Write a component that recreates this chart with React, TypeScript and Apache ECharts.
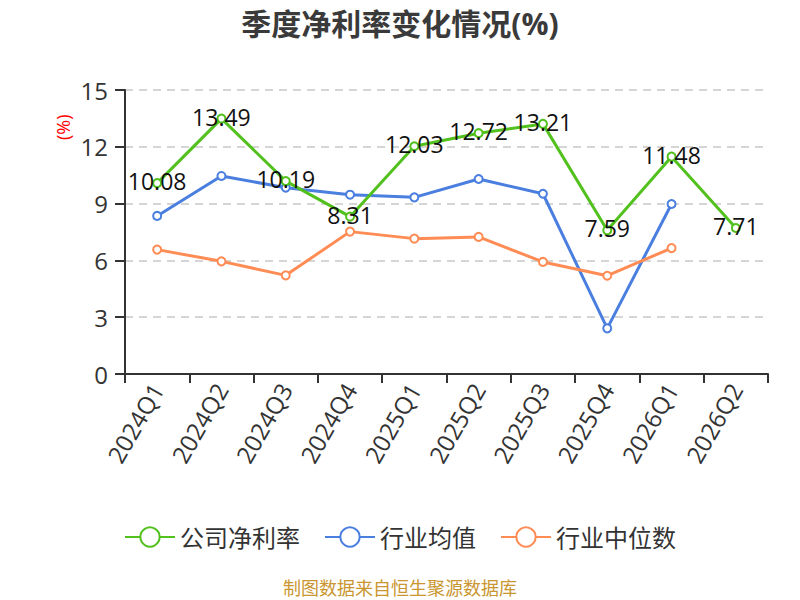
import React, { useEffect, useRef } from "react";
import * as echarts from "echarts";

const categories = ["2024Q1", "2024Q2", "2024Q3", "2024Q4", "2025Q1", "2025Q2", "2025Q3", "2025Q4", "2026Q1", "2026Q2"];
const companyNetMargin = [10.08, 13.49, 10.19, 8.31, 12.03, 12.72, 13.21, 7.59, 11.48, 7.71];
const industryMean = [8.35, 10.46, 9.84, 9.47, 9.33, 10.3, 9.52, 2.41, 8.98, null];
const industryMedian = [6.57, 5.95, 5.21, 7.52, 7.15, 7.24, 5.92, 5.19, 6.65, null];
const seriesNames = ["公司净利率", "行业均值", "行业中位数"];
const titleText = "季度净利率变化情况(%)";
const footerText = "制图数据来自恒生聚源数据库";
const yTicks = { min: 0, max: 15, interval: 3 };

const FONT = "'Open Sans', 'Noto Sans CJK SC', sans-serif";

export default function App() {
  const ref = useRef<HTMLDivElement>(null);
  useEffect(() => {
    if (!ref.current) return;
    const chart = echarts.init(ref.current, null, { renderer: "svg" });
    const colors = ["#52C11E", "#4A7FE0", "#FF8C55"];
    chart.setOption({
      animation: false,
      color: colors,
      textStyle: { fontFamily: FONT },
      title: {
        text: titleText,
        left: "center",
        top: 3,
        textStyle: { fontSize: 30, fontWeight: "bold", color: "#3a3a3a", fontFamily: FONT },
      },
      legend: {
        top: 520,
        left: "center",
        itemWidth: 50,
        itemHeight: 24,
        itemGap: 24,
        textStyle: { fontSize: 24, color: "#333", fontFamily: FONT },
        data: seriesNames,
      },
      grid: { left: 125, right: 32, top: 90, bottom: 226, containLabel: false },
      xAxis: {
        type: "category",
        data: categories,
        boundaryGap: true,
        axisLine: { lineStyle: { color: "#333", width: 2 } },
        axisTick: { show: true, length: 9, lineStyle: { color: "#333", width: 2 } },
        axisLabel: { rotate: 60, fontSize: 24, color: "#333", interval: 0, margin: 11, fontFamily: FONT },
      },
      yAxis: {
        type: "value",
        min: yTicks.min,
        max: yTicks.max,
        interval: yTicks.interval,
        axisLine: { show: true, lineStyle: { color: "#333", width: 2 } },
        axisTick: { show: true, length: 10, lineStyle: { color: "#333", width: 2 } },
        axisLabel: { fontSize: 24, color: "#333", margin: 17, fontFamily: FONT },
        splitLine: { lineStyle: { color: "#c8c8c8", type: [8, 6], width: 1.5 } },
      },
      graphic: [
        {
          type: "text",
          x: 54,
          y: 140,
          rotation: Math.PI / 2,
          style: { text: "(%)", fill: "#ff0000", fontSize: 18, fontFamily: FONT },
        },
        {
          type: "text",
          left: "center",
          top: 579,
          style: { text: footerText, fill: "#C9962F", fontSize: 18, fontFamily: FONT },
        },
      ],
      series: [
        {
          name: seriesNames[0],
          type: "line",
          data: companyNetMargin,
          symbol: "emptyCircle",
          symbolSize: 8,
          lineStyle: { width: 3 },
          itemStyle: { borderWidth: 2 },
          z: 3,
          label: {
            show: true,
            position: "inside",
            offset: [0, -2],
            fontSize: 23,
            color: "#111",
            fontFamily: FONT,
          },
        },
        {
          name: seriesNames[1],
          type: "line",
          data: industryMean,
          symbol: "emptyCircle",
          symbolSize: 8,
          lineStyle: { width: 3 },
          itemStyle: { borderWidth: 2 },
          z: 2,
        },
        {
          name: seriesNames[2],
          type: "line",
          data: industryMedian,
          symbol: "emptyCircle",
          symbolSize: 8,
          lineStyle: { width: 3 },
          itemStyle: { borderWidth: 2 },
          z: 2,
        },
      ],
    });
    return () => chart.dispose();
  }, []);
  return <div ref={ref} style={{ position: "absolute", left: 0, top: 0, width: 800, height: 600 }} />;
}
